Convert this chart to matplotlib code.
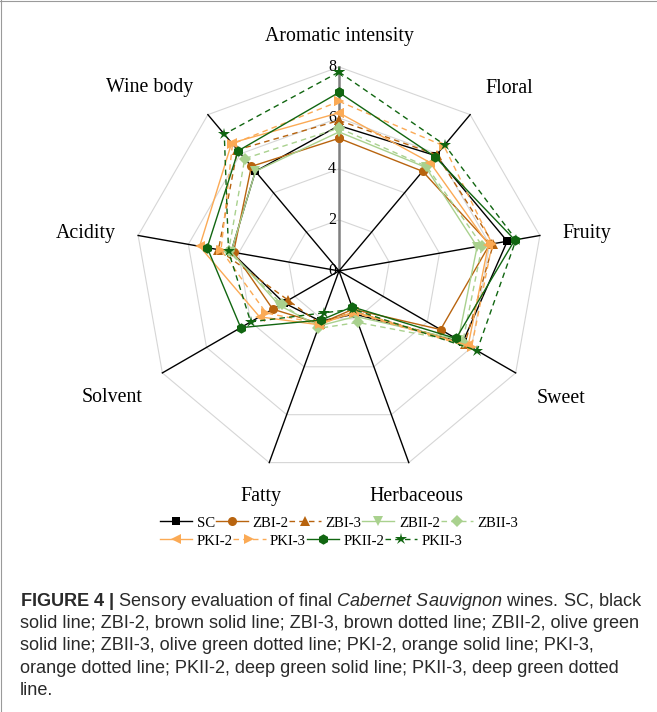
import numpy as np
import matplotlib.pyplot as plt
from matplotlib.lines import Line2D

plt.rcParams['mathtext.fontset'] = 'custom'
plt.rcParams['mathtext.rm'] = 'Liberation Sans'
plt.rcParams['mathtext.it'] = 'Liberation Sans:italic'
plt.rcParams['mathtext.bf'] = 'Liberation Sans:bold'

# sensory attributes, clockwise from the top
attributes = ['Aromatic intensity', 'Floral', 'Fruity', 'Sweet', 'Herbaceous',
              'Fatty', 'Solvent', 'Acidity', 'Wine body']
samples = ['SC', 'ZBI-2', 'ZBI-3', 'ZBII-2', 'ZBII-3',
           'PKI-2', 'PKI-3', 'PKII-2', 'PKII-3']

# panel scores per sample (same order as attributes)
SC     = [5.7, 5.9, 6.7, 5.6, 1.8, 2.1, 2.5, 4.3, 5.1]
ZBI_2  = [5.2, 5.1, 6.0, 4.6, 1.6, 2.2, 3.0, 4.2, 5.35]
ZBI_3  = [5.9, 5.95, 6.15, 5.7, 1.7, 2.2, 2.3, 4.8, 6.2]
ZBII_2 = [5.45, 5.3, 5.5, 5.4, 1.9, 2.3, 2.7, 4.3, 5.1]
ZBII_3 = [5.6, 5.35, 5.7, 5.6, 2.15, 2.4, 2.6, 4.4, 5.75]
PKI_2  = [6.2, 5.55, 5.95, 5.85, 1.7, 2.25, 3.6, 5.55, 6.55]
PKI_3  = [6.65, 6.4, 6.1, 6.0, 1.75, 2.2, 3.3, 4.7, 6.5]
PKII_2 = [7.0, 5.85, 7.0, 5.3, 1.5, 2.05, 4.45, 5.25, 6.15]
PKII_3 = [7.8, 6.45, 7.05, 6.25, 1.6, 1.75, 4.0, 4.4, 7.0]
scores = [SC, ZBI_2, ZBI_3, ZBII_2, ZBII_3, PKI_2, PKI_3, PKII_2, PKII_3]

ticks = [0, 2, 4, 6, 8]

# line styles
brown = '#b8640f'
olive = '#a9d18e'
orange = '#fbaa55'
dgreen = '#116611'
colors = ['black', brown, brown, olive, olive, orange, orange, dgreen, dgreen]
styles = ['-', '-', '--', '-', '--', '-', '--', '-', '--']
markers = ['s', 'o', '^', 'v', 'D', '<', '>', 'h', '*']
msizes = [5.5, 6.5, 7, 7, 6, 7.5, 7.5, 7.5, 9]

# label placement (angle in degrees, radius in score units)
label_ang = [0, 43, 81.5, 119.8, 161, 199, 240.8, 278.3, 314]
label_r = [9.2, 9.8, 9.84, 10.04, 9.37, 9.37, 10.2, 10.04, 10.35]

fig = plt.figure(figsize=(6.57, 7.12), dpi=100)
ax = fig.add_axes([0.2055, 0.333, 0.621, 0.573], projection='polar')
ax.set_theta_zero_location('N')
ax.set_theta_direction(-1)
ax.set_ylim(0, 8)
ax.axis('off')

n = len(attributes)
theta = np.deg2rad(np.arange(n) * 360.0 / n)
closed = np.append(theta, theta[0])

# polygon grid
for r in ticks[1:]:
    ax.plot(closed, [r] * (n + 1), color='#d6d6d6', lw=0.8, zorder=1, clip_on=False)

# spokes
for i, t in enumerate(theta):
    if i == 0:
        ax.plot([t, t], [0, 8], color='#7f7f7f', lw=1.8, zorder=2, clip_on=False)
    else:
        ax.plot([t, t], [0, 8], color='black', lw=1.0, zorder=2, clip_on=False)

# radial tick labels along the top spoke
for v in ticks:
    ax.annotate(str(v), xy=(0, v), xytext=(-5, 0), textcoords='offset points',
                ha='center', va='center', fontsize=11.5, family='Liberation Serif',
                zorder=3)

for name, a, r in zip(attributes, label_ang, label_r):
    ax.text(np.deg2rad(a), r, name, ha='center', va='center', fontsize=14.3,
            family='Liberation Serif')

handles = []
for s, vals, c, ls, m, ms in zip(samples, scores, colors, styles, markers, msizes):
    ln, = ax.plot(closed, vals + vals[:1], color=c, ls=ls, lw=1.0, marker=m,
                  markersize=ms, markeredgewidth=0, label=s, zorder=4,
                  clip_on=False)
    if ls == '--':
        ln.set_dashes((4, 3))
    handles.append(ln)

leg_kw = dict(frameon=False, prop={'family': 'Liberation Serif', 'size': 10.7},
              handlelength=2.16, handletextpad=0.3, columnspacing=0.05,
              borderpad=0, borderaxespad=0, loc='center left')
fig.legend(handles[:5], samples[:5], ncol=5,
           bbox_to_anchor=(0.2435, 0.2655), **leg_kw)
fig.legend(handles[5:], samples[5:], ncol=4,
           bbox_to_anchor=(0.2435, 0.2403), **leg_kw)

# caption
caption = [
    r'$\mathbf{FIGURE\ 4\ |}$ Sensory evaluation of final $\mathit{Cabernet\ Sauvignon}$ wines. SC, black',
    'solid line; ZBI-2, brown solid line; ZBI-3, brown dotted line; ZBII-2, olive green',
    'solid line; ZBII-3, olive green dotted line; PKI-2, orange solid line; PKI-3,',
    'orange dotted line; PKII-2, deep green solid line; PKII-3, deep green dotted',
    'line.',
]
baselines = [606, 628, 650, 673, 695]
for line, yb in zip(caption, baselines):
    fig.text(20 / 657, 1 - yb / 712, line, ha='left', va='baseline',
             fontsize=13.1, family='Liberation Sans', color='#2a2a2a')

# frame
fig.add_artist(Line2D([0.001, 0.001], [0, 1], color='#9a9a9a', lw=0.8))
fig.add_artist(Line2D([0, 1], [0.999, 0.999], color='#9a9a9a', lw=0.8))

fig.savefig('out.png', dpi=100)
